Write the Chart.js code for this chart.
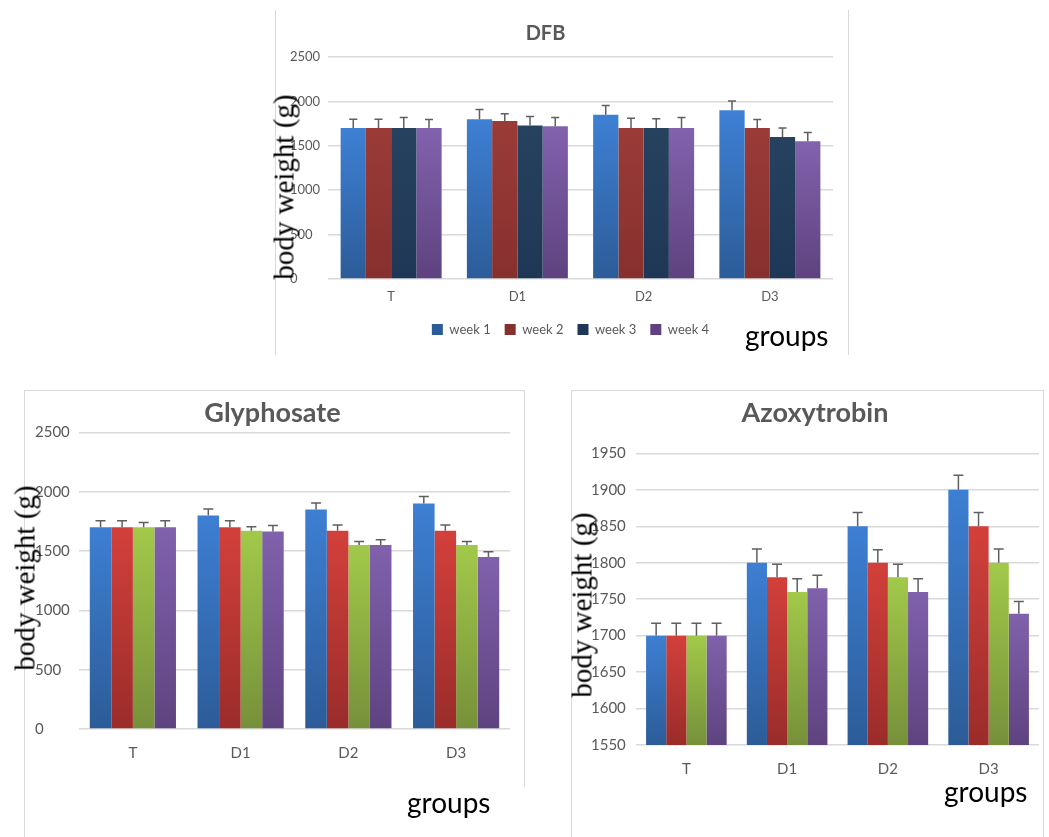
<!DOCTYPE html>
<html>
<head>
<meta charset="utf-8">
<script src="https://cdn.jsdelivr.net/npm/chart.js@4.4.0/dist/chart.umd.min.js"></script>
<style>
  body { margin: 0; width: 1049px; height: 837px; background: #fff; position: relative; overflow: hidden; }
  canvas { position: absolute; }
  .line { position: absolute; background: #d9d9d9; }
  .ylab { position: absolute; font-family: "Liberation Serif", "Times New Roman", serif; font-size: 29px; line-height: 1;
          color: #000; white-space: nowrap; transform: translate(-50%, -50%) rotate(-90deg); }
  .xlab { position: absolute; font-family: Lato, "Open Sans", sans-serif; font-size: 28px; line-height: 1.1;
          color: #000; background: #fff; padding: 0 4px; }
</style>
</head>
<body>

<!-- panel frames -->
<div class="line" style="left:275px;top:10px;width:1px;height:345px"></div>
<div class="line" style="left:848px;top:10px;width:1px;height:345px"></div>
<div class="line" style="left:24px;top:390px;width:501px;height:1px"></div>
<div class="line" style="left:24px;top:390px;width:1px;height:447px"></div>
<div class="line" style="left:524px;top:390px;width:1px;height:403px"></div>
<div class="line" style="left:571px;top:390px;width:473px;height:1px"></div>
<div class="line" style="left:571px;top:390px;width:1px;height:447px"></div>
<div class="line" style="left:1043px;top:390px;width:1px;height:447px"></div>

<canvas id="dfb" width="553" height="345" style="left:290px;top:10px"></canvas>
<canvas id="gly" width="485" height="447" style="left:35px;top:390px"></canvas>
<canvas id="azo" width="454" height="447" style="left:591px;top:390px"></canvas>

<div class="ylab" style="left:284px;top:187px">body weight (g)</div>
<div class="ylab" style="left:25px;top:578px">body weight (g)</div>
<div class="ylab" style="left:582px;top:605px">body weight (g)</div>
<div class="xlab" style="left:741px;top:320px">groups</div>
<div class="xlab" style="left:403px;top:787px;padding-right:40px">groups</div>
<div class="xlab" style="left:940px;top:776px">groups</div>

<script>
/* ---------- shared labels ---------- */
const groups = ["T", "D1", "D2", "D3"];
const weeks = ["week 1", "week 2", "week 3", "week 4"];

/* ---------- DFB ---------- */
const dfbWeek1 = [1700, 1800, 1850, 1900];
const dfbWeek2 = [1700, 1780, 1700, 1700];
const dfbWeek3 = [1700, 1730, 1700, 1600];
const dfbWeek4 = [1700, 1720, 1700, 1550];
const dfbErr1 = [100, 110, 105, 105];
const dfbErr2 = [100, 80, 110, 95];
const dfbErr3 = [120, 100, 105, 100];
const dfbErr4 = [95, 100, 120, 100];

/* ---------- Glyphosate ---------- */
const glyWeek1 = [1700, 1800, 1850, 1900];
const glyWeek2 = [1700, 1700, 1670, 1670];
const glyWeek3 = [1700, 1670, 1550, 1550];
const glyWeek4 = [1700, 1665, 1550, 1450];
const glyErr1 = [55, 55, 55, 60];
const glyErr2 = [55, 55, 50, 50];
const glyErr3 = [40, 35, 30, 30];
const glyErr4 = [55, 50, 45, 45];

/* ---------- Azoxytrobin ---------- */
const azoWeek1 = [1700, 1800, 1850, 1900];
const azoWeek2 = [1700, 1780, 1800, 1850];
const azoWeek3 = [1700, 1760, 1780, 1800];
const azoWeek4 = [1700, 1765, 1760, 1730];
const azoErr1 = [17, 19, 19, 20];
const azoErr2 = [17, 18, 18, 19];
const azoErr3 = [17, 18, 18, 19];
const azoErr4 = [17, 18, 18, 17];

/* ---------- colours (top, bottom of each bar) ---------- */
const dfbColors = [["#3e80d4", "#2c5c98"], ["#9b3b38", "#86302e"], ["#26425f", "#1f3756"], ["#8262ad", "#5e427f"]];
const pestColors = [["#3d7fd3", "#2c5c98"], ["#d3403b", "#9a2c2a"], ["#a2c94a", "#76903a"], ["#8061ac", "#5e4380"]];

Chart.defaults.font.family = "Lato, 'Open Sans', sans-serif";
Chart.defaults.color = "#595959";

// gradient per bar, light at the top
function barFill(pair) {
  return (c) => {
    const ys = c.chart.scales.y;
    if (c.type !== "data" || !ys) return pair[0];
    const y0 = ys.getPixelForValue(c.raw);
    const y1 = ys.bottom;
    if (!Number.isFinite(y0) || !Number.isFinite(y1) || y0 === y1) return pair[0];
    const g = c.chart.ctx.createLinearGradient(0, y0, 0, y1);
    g.addColorStop(0, pair[0]);
    g.addColorStop(1, pair[1]);
    return g;
  };
}

/* ---------- error bars (upper whisker only) ---------- */
const errorBars = {
  id: "errorBars",
  afterDatasetsDraw(chart, args, opts) {
    const ctx = chart.ctx;
    const ys = chart.scales.y;
    ctx.save();
    ctx.strokeStyle = opts.color || "#595959";
    ctx.lineWidth = opts.width || 1.5;
    chart.data.datasets.forEach((ds, i) => {
      chart.getDatasetMeta(i).data.forEach((bar, j) => {
        const top = ys.getPixelForValue(ds.data[j] + ds.errors[j]);
        ctx.beginPath();
        ctx.moveTo(bar.x, bar.y);
        ctx.lineTo(bar.x, top);
        ctx.moveTo(bar.x - opts.cap / 2, top);
        ctx.lineTo(bar.x + opts.cap / 2, top);
        ctx.stroke();
      });
    });
    ctx.restore();
  }
};

/* ---------- move title / legend sideways ---------- */
const nudge = {
  id: "nudge",
  afterLayout(chart, args, opts) {
    if (opts.title && chart.titleBlock) {
      chart.titleBlock.left += opts.title;
      chart.titleBlock.right += opts.title;
    }
    if (opts.legend && chart.legend) {
      chart.legend.left += opts.legend;
      chart.legend.right += opts.legend;
    }
  }
};

function makeChart(id, cfg) {
  const datasets = cfg.values.map((vals, k) => ({
    label: weeks[k],
    data: vals,
    errors: cfg.errors[k],
    backgroundColor: barFill(cfg.colors[k]),
    borderWidth: 0,
    barPercentage: 1.0,
    categoryPercentage: 0.8
  }));

  return new Chart(document.getElementById(id), {
    type: "bar",
    plugins: [errorBars, nudge],
    data: { labels: groups, datasets: datasets },
    options: {
      responsive: false,
      animation: false,
      layout: { padding: cfg.padding },
      plugins: {
        tooltip: { enabled: false },
        title: {
          display: true,
          text: cfg.title,
          color: "#595959",
          font: { size: cfg.titleSize, weight: "bold" },
          padding: cfg.titlePad
        },
        legend: {
          display: cfg.legend,
          position: "bottom",
          labels: { boxWidth: 11, boxHeight: 11, padding: 14, font: { size: 13 }, color: "#595959" }
        },
        errorBars: { cap: cfg.cap, color: "#5f5f5f", width: 1.5 },
        nudge: cfg.nudge || {}
      },
      scales: {
        x: {
          grid: { display: false, drawTicks: false },
          border: { display: false },
          ticks: { padding: cfg.xPad, font: { size: cfg.tickSize }, color: "#595959" },
          afterFit: (s) => { s.height = cfg.xHeight; }
        },
        y: {
          min: cfg.min,
          max: cfg.max,
          grid: { color: "#d9d9d9", lineWidth: 1.5, drawTicks: false },
          border: { display: false },
          ticks: {
            stepSize: cfg.step,
            crossAlign: "far",
            font: { size: cfg.tickSize },
            color: "#595959",
            callback: (v) => String(v)
          },
          afterFit: (s) => { s.width = cfg.yWidth; }
        }
      }
    }
  });
}

makeChart("dfb", {
  title: "DFB", titleSize: 20, titlePad: { top: 12, bottom: 11 },
  values: [dfbWeek1, dfbWeek2, dfbWeek3, dfbWeek4],
  errors: [dfbErr1, dfbErr2, dfbErr3, dfbErr4],
  colors: dfbColors,
  min: 0, max: 2500, step: 500,
  legend: true, cap: 8, tickSize: 13, xPad: 10, xHeight: 30, yWidth: 38,
  padding: { left: 0, right: 10, top: 0, bottom: 9 },
  nudge: { title: -16, legend: 9 }
});

makeChart("gly", {
  title: "Glyphosate", titleSize: 27, titlePad: { top: 7, bottom: 3 },
  values: [glyWeek1, glyWeek2, glyWeek3, glyWeek4],
  errors: [glyErr1, glyErr2, glyErr3, glyErr4],
  colors: pestColors,
  min: 0, max: 2500, step: 500,
  legend: false, cap: 10, tickSize: 15, xPad: 15, xHeight: 35, yWidth: 44,
  padding: { left: 0, right: 10, top: 0, bottom: 73 }
});

makeChart("azo", {
  title: "Azoxytrobin", titleSize: 27, titlePad: { top: 7, bottom: 24 },
  values: [azoWeek1, azoWeek2, azoWeek3, azoWeek4],
  errors: [azoErr1, azoErr2, azoErr3, azoErr4],
  colors: pestColors,
  min: 1550, max: 1950, step: 50,
  legend: false, cap: 10, tickSize: 15, xPad: 15, xHeight: 35, yWidth: 45,
  padding: { left: 0, right: 6, top: 0, bottom: 57 }
});
</script>
</body>
</html>
